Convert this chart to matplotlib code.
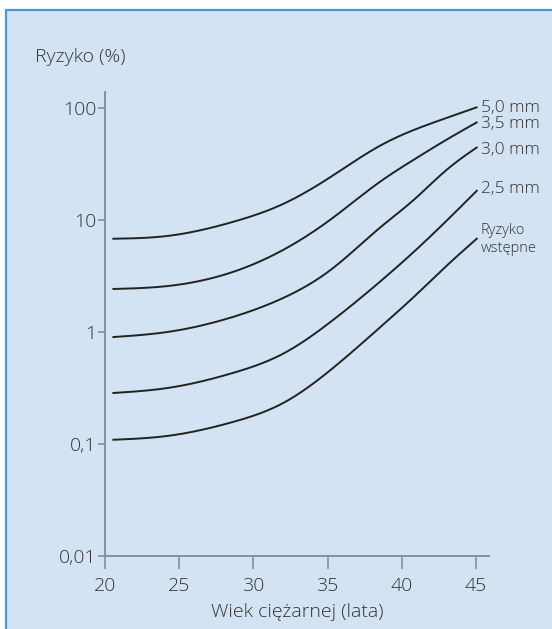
import numpy as np
import matplotlib
matplotlib.use("Agg")
import matplotlib.pyplot as plt
from matplotlib.patches import Rectangle

plt.rcParams['font.family'] = ['Open Sans', 'DejaVu Sans']

# ---- data ----
ages = [20.5, 24.2, 28.6, 32.0, 35.2, 38.5, 40.8, 43.0, 45.1]
risk_50 = [6.8, 7.2, 9.6, 13.9, 24.2, 45.8, 63.6, 81.4, 102.0]
risk_35 = [2.42, 2.57, 3.43, 5.40, 10.1, 21.8, 34.5, 52.0, 75.0]
risk_30 = [0.90, 1.00, 1.36, 2.01, 3.58, 8.48, 15.1, 27.9, 44.9]
risk_25 = [0.285, 0.316, 0.43, 0.64, 1.23, 2.79, 5.18, 9.8, 18.5]
risk_base = [0.109, 0.118, 0.157, 0.232, 0.458, 1.09, 2.05, 3.88, 6.9]
series_labels = ["5,0 mm", "3,5 mm", "3,0 mm", "2,5 mm", "Ryzyko\nwstępne"]
y_ticks = [0.01, 0.1, 1, 10, 100]
y_ticklabels = ["0,01", "0,1", "1", "10", "100"]
x_ticks = [20, 25, 30, 35, 40, 45]

BG = "#d4e3f3"
BORDER = "#4a98d6"
AXC = "#86909a"
TXT = "#333333"
LINE = "#222222"


def smooth_curve(x, y, xn):
    """Natural cubic spline through the read points (for drawing only)."""
    x = np.asarray(x, float); y = np.asarray(y, float)
    n = len(x); h = np.diff(x)
    A = np.zeros((n, n)); b = np.zeros(n)
    A[0, 0] = A[-1, -1] = 1
    for i in range(1, n - 1):
        A[i, i - 1] = h[i - 1]; A[i, i] = 2 * (h[i - 1] + h[i]); A[i, i + 1] = h[i]
        b[i] = 6 * ((y[i + 1] - y[i]) / h[i] - (y[i] - y[i - 1]) / h[i - 1])
    M = np.linalg.solve(A, b)
    idx = np.clip(np.searchsorted(x, xn) - 1, 0, n - 2)
    x0, x1 = x[idx], x[idx + 1]; hh = h[idx]
    return (M[idx] * (x1 - xn) ** 3 / (6 * hh) + M[idx + 1] * (xn - x0) ** 3 / (6 * hh)
            + (y[idx] / hh - M[idx] * hh / 6) * (x1 - xn)
            + (y[idx + 1] / hh - M[idx + 1] * hh / 6) * (xn - x0))


W, H = 552, 629
fig = plt.figure(figsize=(W / 100, H / 100), dpi=100)
fig.patch.set_facecolor("white")
fig.patches.append(Rectangle((6 / W, -0.01), 1.02, 1 - 10 / H + 0.01,
                             transform=fig.transFigure, facecolor=BG,
                             edgecolor=BORDER, linewidth=1.6, zorder=-5))

ax = fig.add_axes([105 / W, 1 - 556 / H, (489 - 105) / W, (556 - 92) / H])
ax.set_zorder(2)
ax.set_facecolor("none")
ax.set_yscale("log")
ax.set_xlim(20, 20 + 384 / 14.84)
ax.set_ylim(0.01, 10 ** (-2 + 464 / 112))

xs = np.linspace(ages[0], ages[-1], 400)
all_series = [risk_50, risk_35, risk_30, risk_25, risk_base]
for vals in all_series:
    ys = 10 ** smooth_curve(ages, np.log10(vals), xs)
    ax.plot(xs, ys, color=LINE, lw=1.4, solid_capstyle="butt", clip_on=False)

# labels at curve ends
offsets = [(2.5, -0.8), (2.5, -1.5), (2.5, -2.2), (2.5, 0.7), (2.5, -1.0)]
fss = [12.5, 12.5, 12.5, 12.5, 10.5]
lsp = [1.0, 1.0, 1.0, 1.0, 1.2]
for vals, lab, off, fs, ls in zip(all_series, series_labels, offsets, fss, lsp):
    ax.annotate(lab, xy=(ages[-1], vals[-1]), xytext=off, textcoords="offset points",
                ha="left", va="center", fontsize=fs, color=TXT, linespacing=ls,
                fontweight="light", annotation_clip=False)

for s in ["top", "right"]:
    ax.spines[s].set_visible(False)
for s in ["left", "bottom"]:
    ax.spines[s].set_color(AXC)
    ax.spines[s].set_linewidth(1.4)

ax.set_yticks(y_ticks)
ax.set_yticklabels(y_ticklabels)
ax.yaxis.set_minor_locator(matplotlib.ticker.NullLocator())
ax.set_xticks(x_ticks)
ax.tick_params(axis="y", direction="out", length=5, width=1.2, color=AXC,
               labelsize=14, labelcolor=TXT, pad=1)
ax.tick_params(axis="x", direction="out", length=9, width=1.2, color=AXC,
               labelsize=14, labelcolor=TXT, pad=6)
for lab in ax.get_xticklabels() + ax.get_yticklabels():
    lab.set_fontweight("light")

ax.set_xlabel("Wiek ciężarnej (lata)", fontsize=14, color=TXT, labelpad=6,
              fontweight="light")
fig.text(35 / W, 1 - 57 / H, "Ryzyko (%)", fontsize=14, color=TXT,
         ha="left", va="center", fontweight="light")

fig.savefig("out.png", dpi=100, facecolor=fig.get_facecolor())
